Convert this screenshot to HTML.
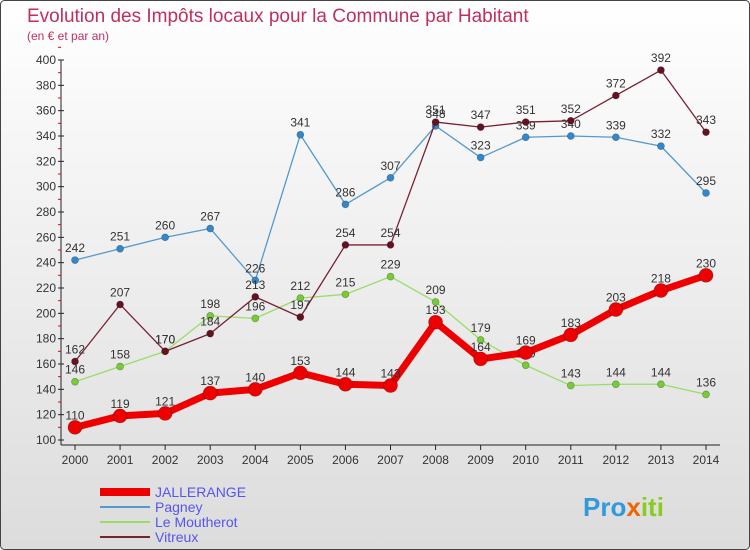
<!DOCTYPE html>
<html><head><meta charset="utf-8"><style>
body{margin:0;background:#fff}
svg{display:block;font-family:"Liberation Sans",sans-serif}
</style></head><body>
<svg id="c" width="750" height="550">
<defs><linearGradient id="bg" x1="0" y1="0" x2="0" y2="1"><stop offset="0" stop-color="#ffffff"/><stop offset="1" stop-color="#dcdcdc"/></linearGradient></defs>
<rect x="0.5" y="0.5" width="749" height="549" rx="4" fill="url(#bg)" stroke="#444"/>
<text x="27" y="22" font-size="19" fill="#c0305a">Evolution des Impôts locaux pour la Commune par Habitant</text>
<text x="27" y="40" font-size="12" fill="#c0305a">(en € et par an)</text>
<g id="axes"></g><g id="series"></g><g id="legend"></g>
<text x="583" y="516" font-size="26" font-weight="bold" fill="#3399dd">Pro<tspan fill="#ee6600">x</tspan><tspan fill="#88cc22">iti</tspan></text>
</svg>
<script>
const years=[2000,2001,2002,2003,2004,2005,2006,2007,2008,2009,2010,2011,2012,2013,2014];
const jallerange=[110,119,121,137,140,153,144,143,193,164,169,183,203,218,230];
const pagney=[242,251,260,267,226,341,286,307,348,323,339,340,339,332,295];
const moutherot=[146,158,170,198,196,212,215,229,209,179,159,143,144,144,136];
const vitreux=[162,207,170,184,213,197,254,254,351,347,351,352,372,392,343];
const yTicks=[100,120,140,160,180,200,220,240,260,280,300,320,340,360,380,400];
const NS="http://www.w3.org/2000/svg";
const X=i=>75+i*(706-75)/(years.length-1);
const Y=v=>440-(v-100)*380/300;
function mk(t,a,p){const e=document.createElementNS(NS,t);for(const k in a)e.setAttribute(k,a[k]);p.appendChild(e);return e;}
const ax=document.getElementById('axes');
const yl=mk('line',{x1:61,y1:60,x2:61,y2:445,stroke:'#222'},ax);


const xl=mk('line',{x1:61,y1:445,x2:720,y2:445,stroke:'#222'},ax);


yTicks.forEach(v=>{
  mk('line',{x1:58,x2:64,y1:Y(v),y2:Y(v),stroke:'#222'},ax);
  mk('line',{x1:58,x2:61,y1:Y(v+10),y2:Y(v+10),stroke:'#e00'},ax);
  const t=mk('text',{x:56,y:Y(v)+4,'font-size':12,'text-anchor':'end',fill:'#333'},ax);t.textContent=v;
  
  
});
years.forEach((y,i)=>{
  mk('line',{x1:X(i),x2:X(i),y1:445,y2:450,stroke:'#222'},ax);
  const t=mk('text',{x:X(i),y:464,'font-size':12,'text-anchor':'middle',fill:'#333'},ax);t.textContent=y;
  
  
});
const sg=document.getElementById('series');
function draw(data,color,dot,w,r,name){
  const g=mk('g',{},sg);
  
  
  mk('polyline',{points:data.map((v,i)=>X(i)+','+Y(v)).join(' '),fill:'none',stroke:color,'stroke-width':w,'stroke-linejoin':'round'},g);
  data.forEach((v,i)=>{
    const c=mk('circle',{cx:X(i),cy:Y(v),r:r,fill:dot,stroke:'rgba(0,0,0,0.3)','stroke-width':0.7},g);
    
    
    const t=mk('text',{x:X(i),y:Y(v)-8,'font-size':12,'text-anchor':'middle',fill:'#333'},g);t.textContent=v;
    
    
  });
}
draw(pagney,'#5599cc','#3388cc',1.3,3.5,'pagney');
draw(moutherot,'#99dd66','#77cc33',1.3,3.5,'le-moutherot');
draw(vitreux,'#772233','#661122',1.3,3.5,'vitreux');
draw(jallerange,'#ee0000','#ee0000',7,7,'jallerange');
const lg=document.getElementById('legend');
[['JALLERANGE','#ee0000',8],['Pagney','#5599cc',2],['Le Moutherot','#99dd66',2],['Vitreux','#772233',2]].forEach((e,i)=>{
  const y=492+i*15;
  const l=mk('line',{x1:100,x2:150,y1:y,y2:y,stroke:e[1],'stroke-width':e[2]},lg);
  
  
  const t=mk('text',{x:155,y:y+5,'font-size':14,fill:'#5555ee'},lg);t.textContent=e[0];
  
  
});
</script>
</body></html>
